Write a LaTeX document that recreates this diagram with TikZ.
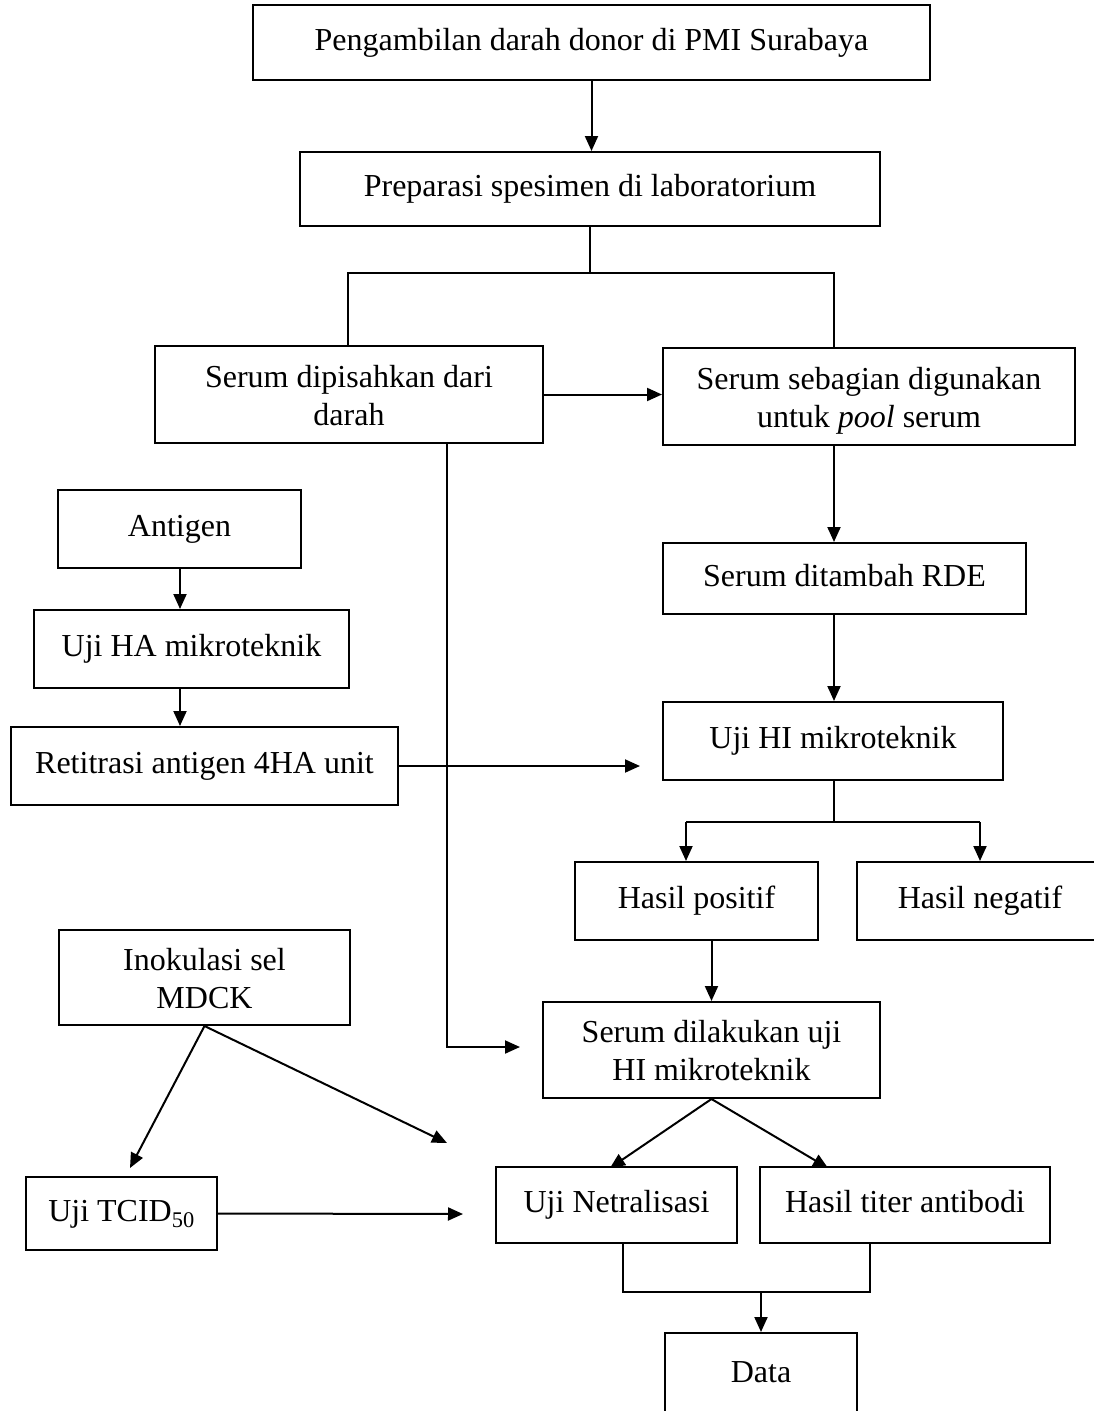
\documentclass[tikz,border=0pt]{standalone}
\usepackage{fontspec}
\setmainfont{Liberation Serif}
\usetikzlibrary{arrows.meta}

\begin{document}
\begin{tikzpicture}[x = 1pt, y = -1pt, line width = 2pt, >={Triangle[length = 15pt, width = 13pt]},
	box/.style = {draw, line width = 2pt, align = center, inner sep = 0pt, font = \fontsize{32}{38}\selectfont},
	onebox/.style = {box, execute at begin node = \strut, execute at end node = \strut},
	twobox/.style = {box, text height = 66pt, text depth = 5pt}]
	\useasboundingbox (0,0) rectangle (1093,1411);
	\node[onebox, minimum width = 677, minimum height = 75] (ambil) at (591.5,42.5) {Pengambilan darah donor di PMI Surabaya};
	\node[onebox, minimum width = 580, minimum height = 74] (prep) at (590,189) {Preparasi spesimen di laboratorium};
	\node[twobox, minimum width = 388, minimum height = 97] (pisah) at (349,394.5) {Serum dipisahkan dari\\darah};
	\node[twobox, minimum width = 412, minimum height = 97] (pool) at (869,396.5) {Serum sebagian digunakan\\untuk \textit{pool} serum};
	\node[onebox, minimum width = 243, minimum height = 78] (antigen) at (179.5,529) {Antigen};
	\node[onebox, minimum width = 315, minimum height = 78] (ujiHA) at (191.5,649) {Uji HA mikroteknik};
	\node[onebox, minimum width = 387, minimum height = 78] (retit) at (204.5,766) {Retitrasi antigen 4HA unit};
	\node[onebox, minimum width = 363, minimum height = 71] (rde) at (844.5,578.5) {Serum ditambah RDE};
	\node[onebox, minimum width = 340, minimum height = 78] (ujiHI) at (833,741) {Uji HI mikroteknik};
	\node[onebox, minimum width = 243, minimum height = 78] (pos) at (696.5,901) {Hasil positif};
	\node[onebox, minimum width = 246, minimum height = 78] (neg) at (980,901) {Hasil negatif};
	\node[twobox, minimum width = 291, minimum height = 95] (inok) at (204.5,977.5) {Inokulasi sel\\MDCK};
	\node[twobox, minimum width = 337, minimum height = 96] (serHI) at (711.5,1050) {Serum dilakukan uji\\HI mikroteknik};
	\node[onebox, minimum width = 191, minimum height = 73] (tcid) at (121.5,1213.5) {Uji TCID\textsubscript{50}};
	\node[onebox, minimum width = 241, minimum height = 76] (netr) at (616.5,1205) {Uji Netralisasi};
	\node[onebox, minimum width = 290, minimum height = 76] (titer) at (905,1205) {Hasil titer antibodi};
	\node[onebox, minimum width = 192, minimum height = 84] (data) at (761,1375) {Data};

	\coordinate (split) at (590,273);
	\coordinate (splitL) at (348,273);
	\coordinate (splitR) at (834,273);
	\coordinate (leftx) at (180,0);
	\coordinate (retitEnd) at (640,766);
	\coordinate (hiSplit) at (834,822);
	\coordinate (hiL) at (686,822);
	\coordinate (hiR) at (980,822);
	\coordinate (pisahDown) at (447,1047);
	\coordinate (serHIin) at (520,1047);
	\coordinate (tcidIn) at (130,1168);
	\coordinate (inokRight) at (447,1143);
	\coordinate (tcidOut) at (463,1214);
	\coordinate (netrTip) at (610,1168);
	\coordinate (titerTip) at (828,1168);
	\coordinate (joinL) at (623,1292);
	\coordinate (joinR) at (870,1292);
	\coordinate (joinM) at (761,1292);

	\draw[->] (ambil.south) -- (ambil.south |- prep.north);
	\draw (prep.south) -- (split);
	\draw (splitL |- pisah.north) -- (splitL) -- (splitR) -- (splitR |- pool.north);
	\draw[->] (pisah.east) -- (pisah.east -| pool.west);
	\draw[->] (splitR |- pool.south) -- (splitR |- rde.north);
	\draw[->] (splitR |- rde.south) -- (splitR |- ujiHI.north);
	\draw[->] (leftx |- antigen.south) -- (leftx |- ujiHA.north);
	\draw[->] (leftx |- ujiHA.south) -- (leftx |- retit.north);
	\draw[->] (retit.east) -- (retitEnd);
	\draw (splitR |- ujiHI.south) -- (hiSplit);
	\draw (hiL) -- (hiR);
	\draw[->] (hiL) -- (hiL |- pos.north);
	\draw[->] (hiR) -- (hiR |- neg.north);
	\draw[->] (pos.south -| serHI.north) -- (serHI.north);
	\draw[->] (pisahDown |- pisah.south) -- (pisahDown) -- (serHIin);
	\draw[->] (inok.south) -- (tcidIn);
	\draw[->] (inok.south) -- (inokRight);
	\draw[->] (tcid.east) -- (tcidOut);
	\draw[->] (serHI.south) -- (netrTip);
	\draw[->] (serHI.south) -- (titerTip);
	\draw (joinL |- netr.south) -- (joinL) -- (joinR) -- (joinR |- titer.south);
	\draw[->] (joinM) -- (data.north);
\end{tikzpicture}
\end{document}
